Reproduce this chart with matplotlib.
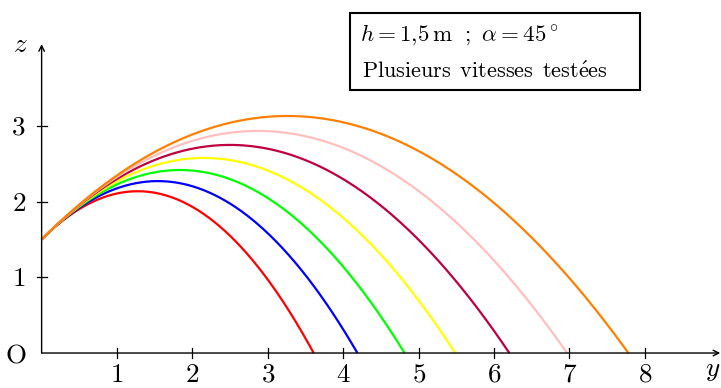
import numpy as np
import matplotlib.pyplot as plt
from matplotlib.patches import Rectangle

plt.rcParams['mathtext.fontset'] = 'cm'
plt.rcParams['font.family'] = ['cmr10', 'DejaVu Serif']

# Data -------------------------------------------------------------------

h = 1.5                 # launch height [m]
alpha_deg = 45          # launch angle
g = 9.81
speeds = [5, 5.5, 6, 6.5, 7, 7.5, 8]   # tested speeds [m/s]
colors = ['#ff0000', '#0000ff', '#00ff00', '#ffff00', '#bf0040', '#ffbfbf', '#ff8000']
xticks = [1, 2, 3, 4, 5, 6, 7, 8]
zticks = [1, 2, 3]

#-------------------------------------------------------------------------

fig = plt.figure(figsize=(7.21, 3.88), dpi=100)
ax = fig.add_axes([0, 0, 1, 1])
ax.set_xlim(-0.552, 9.01)
ax.set_ylim(-0.462, 4.663)
ax.axis('off')

# trajectories, drawn from the slowest to the fastest
a = np.radians(alpha_deg)
for v, c in zip(speeds, colors):
    k = g / (2 * v**2 * np.cos(a)**2)
    t = np.tan(a)
    x_end = (t + np.sqrt(t**2 + 4 * k * h)) / (2 * k)
    x = np.linspace(0, x_end, 300)
    z = h + t * x - k * x**2
    ax.plot(x, z, color=c, lw=1.6, solid_capstyle='butt')

# axes with arrows
ax.annotate('', xy=(9.0, 0), xytext=(0, 0),
            arrowprops=dict(arrowstyle='->', lw=1.0, color='black', shrinkA=0, shrinkB=0))
ax.annotate('', xy=(0, 4.08), xytext=(0, 0),
            arrowprops=dict(arrowstyle='->', lw=1.0, color='black', shrinkA=0, shrinkB=0))

fs = 19.5
tl = 0.065
for xt in xticks:
    ax.plot([xt, xt], [-tl, tl], color='black', lw=0.9)
    ax.text(xt, -0.38, f'${xt}$', ha='center', va='baseline', fontsize=fs)
for zt in zticks:
    ax.plot([-tl, tl], [zt, zt], color='black', lw=0.9)
    ax.text(-0.21, zt - 0.12, f'${zt}$', ha='right', va='baseline', fontsize=fs)

ax.text(-0.2, -0.12, r'$\mathrm{O}$', ha='right', va='baseline', fontsize=fs)
ax.text(-0.19, 3.98, r'$z$', ha='right', va='baseline', fontsize=fs)
ax.text(9.005, -0.3, r'$y$', ha='right', va='baseline', fontsize=fs)

# legend box
fig.add_artist(Rectangle((350 / 721, 1 - 90 / 388), 290 / 721, 77 / 388,
                         transform=fig.transFigure, fc='white', ec='black', lw=1.5))
fig.text(360 / 721, 1 - 35 / 388, r'$h = 1{,}5\,\mathrm{m}\ \ ;\ \alpha = 45^\circ$',
         ha='left', va='center', fontsize=16.6)
fig.text(362 / 721, 1 - 71 / 388, r'$\mathrm{Plusieurs\ \,vitesses\ \,test\acute{e}es}$',
         ha='left', va='center', fontsize=16)

fig.savefig('out.png', dpi=100)
